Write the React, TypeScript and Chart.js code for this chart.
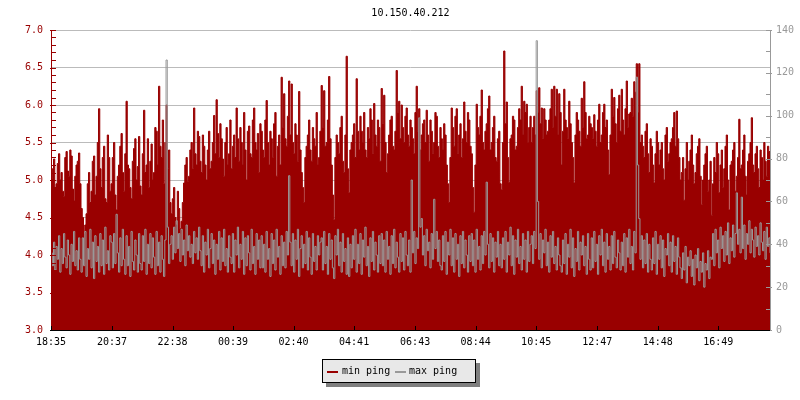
import React, { useEffect, useRef } from "react";
import { Chart, registerables } from "chart.js";

Chart.register(...registerables);

const FONT_FAMILY = "'DejaVu Sans Mono', monospace";
const RED = "#990000";
const GRAY = "#999999";

const chartTitle = "10.150.40.212";
const seriesNames = ["min ping", "max ping"];
const tickLabels = ["18:35", "20:37", "22:38", "00:39", "02:40", "04:41", "06:43", "08:44", "10:45", "12:47", "14:48", "16:49"];
const sampleStepMinutes = 2.5;

// min ping (left axis, ms) – one row per hour
const minPing = [
  5.02, 5.15, 5.28, 4.9, 4.95, 5.22, 5.35, 5.0, 5.1, 4.85, 4.78, 5.3, 5.38, 5.12, 5.05, 5.4, 5.32, 4.88, 4.72, 5.05, 5.2, 5.25, 5.36, 4.95,
  4.62, 4.5, 4.28, 4.4, 4.55, 4.95, 5.1, 4.7, 4.85, 5.25, 5.32, 4.8, 5.05, 5.5, 5.95, 5.15, 4.9, 5.3, 5.45, 4.75, 4.7, 5.6, 5.3, 4.85,
  4.95, 5.3, 5.5, 4.8, 4.6, 5.05, 5.2, 5.45, 5.62, 5.1, 4.85, 5.35, 6.05, 5.2, 5.15, 4.9, 4.75, 5.25, 5.42, 5.55, 5.0, 5.18, 5.58, 4.92,
  4.8, 5.35, 5.93, 5.1, 5.2, 5.55, 4.9, 5.25, 5.48, 5.0, 5.1, 5.7, 5.65, 5.2, 6.25, 5.45, 5.3, 5.8, 4.95, 5.5, 6.0, 5.15, 5.4, 4.7,
  4.55, 4.75, 4.9, 4.5, 4.4, 4.85, 4.62, 4.35, 4.45, 4.7, 4.96, 5.2, 5.3, 4.98, 5.05, 5.4, 5.5, 5.15, 5.96, 5.35, 5.2, 5.65, 5.58, 5.25,
  5.1, 5.6, 5.45, 5.2, 5.0, 5.4, 5.65, 5.15, 5.25, 5.5, 5.86, 5.35, 6.07, 5.62, 5.3, 5.75, 5.55, 5.28, 5.05, 5.5, 5.7, 5.2, 5.35, 5.8,
  5.15, 5.45, 5.6, 5.3, 5.96, 5.55, 5.25, 5.7, 5.5, 5.2, 5.9, 5.4, 5.0, 5.65, 5.72, 5.35, 5.3, 5.8, 5.96, 5.5, 5.4, 5.62, 5.1, 5.75,
  5.65, 5.4, 5.3, 5.8, 6.06, 5.5, 5.2, 5.65, 5.55, 5.3, 5.75, 5.9, 5.05, 5.45, 5.6, 5.2, 6.37, 5.7, 6.15, 5.55, 5.45, 5.85, 6.32, 5.6,
  6.28, 5.5, 5.35, 5.75, 5.6, 5.25, 6.18, 5.4, 5.1, 4.9, 4.7, 5.3, 5.45, 5.6, 5.8, 5.4, 5.25, 5.7, 5.55, 5.45, 5.9, 5.2, 5.3, 5.65,
  6.26, 5.7, 6.19, 5.45, 5.5, 5.8, 6.38, 5.55, 5.2, 4.8, 4.47, 5.3, 5.6, 5.5, 5.35, 5.7, 5.85, 5.25, 5.1, 5.6, 6.65, 5.15, 4.83, 5.4,
  5.5, 5.6, 5.75, 5.3, 6.35, 5.65, 5.4, 5.85, 5.65, 5.5, 5.9, 5.4, 5.3, 5.7, 5.55, 5.95, 5.8, 5.35, 6.02, 5.6, 5.45, 5.8, 5.7, 5.25,
  6.22, 5.75, 6.13, 5.5, 5.1, 5.35, 5.6, 5.8, 5.85, 5.45, 5.4, 5.65, 6.46, 5.9, 6.05, 5.55, 6.0, 5.7, 5.5, 5.85, 5.96, 5.6, 5.45, 5.8,
  5.7, 5.55, 5.35, 5.9, 6.25, 5.65, 5.95, 5.4, 5.6, 5.75, 5.8, 5.5, 5.93, 5.6, 5.25, 5.8, 5.65, 5.35, 5.5, 5.9, 5.85, 5.45, 5.3, 5.7,
  5.55, 5.4, 5.75, 5.6, 5.2, 4.95, 4.7, 5.3, 5.96, 5.7, 5.45, 5.85, 5.95, 5.35, 5.6, 5.75, 5.3, 5.55, 6.04, 5.65, 5.5, 5.9, 5.8, 5.45,
  5.35, 4.9, 4.57, 5.2, 6.01, 5.7, 5.6, 5.85, 6.2, 5.5, 5.4, 5.65, 5.75, 5.95, 6.12, 5.4, 5.5, 5.7, 5.85, 5.3, 5.25, 5.55, 5.65, 4.95,
  4.87, 5.5, 6.72, 5.75, 6.04, 5.3, 4.97, 5.55, 5.6, 5.85, 5.8, 5.4, 5.45, 5.7, 5.95, 5.8, 6.25, 5.6, 6.05, 5.9, 6.01, 5.5, 5.7, 5.85,
  5.5, 5.7, 5.85, 5.6, 6.19, 5.9, 6.23, 5.75, 5.96, 5.55, 5.95, 5.8, 5.6, 5.65, 5.8, 5.95, 6.21, 5.7, 6.25, 5.85, 6.21, 5.6, 6.15, 5.9,
  5.2, 5.65, 6.21, 5.8, 5.7, 5.55, 6.05, 5.75, 5.5, 5.3, 4.96, 5.6, 5.9, 5.8, 5.65, 5.45, 6.09, 5.7, 6.31, 5.9, 5.55, 5.6, 5.85, 5.75,
  5.7, 5.55, 5.87, 5.65, 5.45, 5.8, 6.01, 5.5, 5.6, 5.9, 6.01, 5.7, 5.8, 5.4, 5.07, 5.6, 6.21, 5.85, 6.1, 5.75, 5.5, 5.95, 6.13, 5.65,
  6.21, 5.8, 5.6, 5.95, 6.32, 5.7, 5.88, 5.9, 6.09, 5.85, 6.31, 6.17, 6.55, 5.9, 6.55, 5.5, 5.6, 5.45, 5.3, 5.65, 5.75, 5.35, 5.1, 5.55,
  5.45, 5.2, 4.96, 5.35, 5.65, 5.5, 5.2, 5.4, 5.5, 5.15, 5.0, 5.6, 5.7, 5.25, 5.35, 5.5, 5.55, 5.7, 5.9, 5.45, 5.92, 5.55, 5.3, 5.0,
  5.1, 5.3, 4.73, 5.15, 5.5, 5.0, 5.25, 5.4, 5.6, 5.2, 4.95, 5.1, 5.35, 5.45, 5.55, 5.05, 4.67, 5.0, 5.2, 5.35, 5.45, 4.85, 5.0, 5.25,
  4.53, 4.95, 5.3, 5.1, 5.5, 5.35, 4.83, 5.2, 5.4, 4.9, 5.15, 5.45, 5.6, 5.0, 4.6, 5.2, 5.25, 5.4, 5.5, 4.85, 5.05, 5.3, 5.81, 5.15,
  5.2, 5.4, 5.6, 5.05, 4.8, 5.25, 5.35, 5.5, 5.83, 5.2, 5.1, 5.35, 5.45, 5.15, 4.9, 5.4, 5.3, 5.0, 5.5, 5.25, 5.05, 5.45, 5.38, 5.2,
];

// max ping (right axis, ms) – one row per hour
const maxPing = [
  36, 30, 41, 28, 39, 33, 44, 27, 38, 31, 45, 34, 29, 42, 35, 26, 40, 32, 46, 30, 37, 28, 43, 33,
  27, 43, 30, 46, 25, 38, 33, 47, 29, 41, 24, 44, 32, 39, 27, 45, 30, 42, 26, 48, 31, 37, 28, 44,
  41, 29, 45, 31, 54, 36, 27, 43, 30, 47, 33, 26, 44, 30, 39, 25, 46, 32, 28, 42, 35, 27, 45, 31,
  28, 44, 32, 47, 26, 40, 31, 45, 29, 43, 34, 26, 46, 30, 41, 27, 44, 33, 25, 42, 126, 48, 31, 40,
  44, 33, 48, 36, 51, 38, 45, 32, 47, 35, 42, 30, 49, 37, 44, 34, 40, 31, 46, 36, 43, 33, 48, 37,
  30, 44, 27, 41, 35, 47, 29, 38, 45, 31, 42, 26, 40, 33, 46, 28, 43, 32, 47, 30, 38, 27, 44, 34,
  31, 45, 27, 42, 35, 48, 29, 40, 33, 46, 26, 43, 30, 44, 36, 28, 47, 31, 39, 26, 45, 33, 42, 29,
  44, 29, 40, 27, 46, 33, 38, 25, 45, 31, 42, 28, 47, 34, 39, 26, 44, 30, 41, 29, 46, 35, 72, 41,
  30, 45, 27, 42, 33, 47, 25, 38, 44, 29, 40, 31, 46, 28, 43, 34, 26, 45, 32, 39, 28, 44, 35, 41,
  43, 28, 46, 31, 39, 26, 45, 33, 42, 29, 24, 44, 35, 47, 30, 41, 27, 45, 32, 38, 26, 43, 25, 40,
  29, 44, 33, 47, 27, 40, 31, 45, 26, 42, 34, 48, 30, 39, 25, 43, 32, 46, 28, 41, 35, 27, 44, 31,
  45, 30, 42, 27, 46, 33, 39, 26, 44, 31, 47, 29, 41, 34, 27, 45, 32, 43, 28, 46, 35, 30, 42, 27,
  70, 36, 46, 31, 43, 38, 99, 48, 52, 35, 44, 30, 47, 37, 41, 29, 45, 33, 61, 38, 46, 32, 42, 30,
  28, 44, 32, 46, 26, 41, 35, 47, 30, 43, 27, 45, 33, 40, 25, 44, 31, 46, 29, 42, 35, 27, 44, 32,
  45, 30, 42, 27, 47, 33, 39, 28, 44, 31, 46, 35, 69, 40, 29, 45, 32, 43, 27, 41, 34, 46, 30, 40,
  29, 43, 33, 46, 27, 41, 35, 48, 30, 44, 26, 42, 34, 47, 31, 39, 28, 45, 33, 42, 27, 46, 32, 40,
  44, 31, 46, 38, 135, 60, 33, 45, 29, 42, 36, 47, 30, 41, 27, 44, 34, 46, 31, 39, 28, 43, 35, 30,
  27, 42, 31, 45, 26, 40, 34, 47, 29, 43, 25, 38, 32, 46, 28, 41, 35, 44, 30, 39, 26, 45, 33, 28,
  43, 29, 46, 32, 40, 26, 44, 35, 47, 30, 41, 27, 45, 33, 39, 28, 44, 31, 46, 34, 29, 42, 36, 28,
  41, 30, 45, 27, 43, 34, 47, 31, 39, 28, 46, 36, 118, 77, 52, 33, 44, 29, 42, 31, 45, 27, 40, 33,
  28, 43, 31, 46, 26, 40, 33, 44, 29, 42, 25, 38, 35, 45, 30, 41, 27, 44, 32, 39, 26, 43, 34, 29,
  24, 36, 28, 39, 22, 34, 30, 37, 25, 33, 21, 35, 29, 38, 23, 32, 27, 36, 20, 31, 28, 37, 24, 34,
  33, 45, 30, 47, 36, 42, 29, 48, 38, 44, 32, 46, 35, 50, 31, 43, 37, 49, 34, 45, 64, 40, 47, 36,
  62, 38, 49, 33, 45, 40, 51, 36, 47, 42, 34, 48, 39, 44, 35, 50, 41, 37, 46, 33, 48, 39, 43, 36,
];

const leftMin = 3;
const leftMax = 7;
const leftStep = 0.5;
const rightMin = 0;
const rightMax = 140;
const rightStep = 20;

function toMinutes(label: string): number {
  const [h, m] = label.split(":").map(Number);
  return h * 60 + m;
}
const startMinute = toMinutes(tickLabels[0]);
const tickOffsets = tickLabels.map((l) => (toMinutes(l) - startMinute + 1440) % 1440);
const sampleCount = Math.min(minPing.length, maxPing.length);
const lastOffset = (sampleCount - 1) * sampleStepMinutes;

const axisPlugin = {
  id: "rrdAxes",
  afterDatasetsDraw(chart: any) {
    const ctx = chart.ctx as CanvasRenderingContext2D;
    const { left, right, top, bottom } = chart.chartArea;
    const ys = chart.scales.y;
    const yr = chart.scales.y1;
    const xs = chart.scales.x;
    const L = Math.round(left);
    const R = Math.round(right);
    const T = Math.round(top);
    const B = Math.round(bottom);
    ctx.save();
    ctx.fillStyle = RED;
    ctx.fillRect(L, T, 1, B - T + 1);
    const nMinor = Math.round((leftMax - leftMin) / 0.1);
    for (let k = 0; k <= nMinor; k++) {
      const py = Math.round(ys.getPixelForValue(leftMin + k * 0.1));
      if (k % 5 === 0) ctx.fillRect(L - 1, py, 6, 1);
      else ctx.fillRect(L, py, 5, 1);
    }
    ctx.fillStyle = GRAY;
    ctx.fillRect(R, T, 1, B - T + 1);
    for (let v = rightMin; v <= rightMax; v += rightStep / 2) {
      const py = Math.round(yr.getPixelForValue(v));
      if (v % rightStep === 0) ctx.fillRect(R - 4, py, 6, 1);
      else ctx.fillRect(R - 4, py, 5, 1);
    }
    ctx.fillStyle = "#000000";
    ctx.fillRect(L - 1, B, R - L + 1, 1);
    tickOffsets.forEach((m) => {
      const px = Math.round(xs.getPixelForValue(m));
      ctx.fillRect(px, B - 4, 1, 4);
    });
    ctx.restore();
  },
};

export default function App() {
  const canvasRef = useRef<HTMLCanvasElement | null>(null);

  useEffect(() => {
    if (!canvasRef.current) return;
    const font = { family: FONT_FAMILY, size: 10, weight: "normal" as const };
    const chart = new Chart(canvasRef.current, {
      type: "line",
      data: {
        datasets: [
          {
            label: seriesNames[0],
            data: minPing.slice(0, sampleCount).map((v, i) => ({ x: i * sampleStepMinutes, y: v })),
            yAxisID: "y",
            borderColor: RED,
            backgroundColor: RED,
            borderWidth: 1,
            pointRadius: 0,
            fill: "start",
            stepped: true,
            order: 2,
          },
          {
            label: seriesNames[1],
            data: maxPing.slice(0, sampleCount).map((v, i) => ({ x: i * sampleStepMinutes, y: v })),
            yAxisID: "y1",
            borderColor: GRAY,
            backgroundColor: GRAY,
            borderWidth: 1,
            pointRadius: 0,
            fill: false,
            stepped: true,
            order: 1,
          },
        ],
      },
      options: {
        animation: false,
        responsive: false,
        devicePixelRatio: 1,
        events: [],
        layout: { padding: 0 },
        plugins: {
          legend: { display: false },
          tooltip: { enabled: false },
          title: {
            display: true,
            text: chartTitle,
            color: "#000000",
            fullSize: false,
            font: { ...font, lineHeight: 1.2 },
            padding: { top: 7, bottom: 11 },
          },
        },
        scales: {
          x: {
            type: "linear",
            min: 0,
            max: lastOffset,
            afterBuildTicks: (s: any) => {
              s.ticks = tickOffsets.map((v) => ({ value: v }));
            },
            afterFit: (s: any) => {
              s.height = 70;
            },
            grid: { display: false, drawTicks: false },
            border: { display: false },
            ticks: {
              autoSkip: false,
              maxRotation: 0,
              padding: 6,
              color: "#000000",
              font,
              callback: (v: any) => {
                const i = tickOffsets.indexOf(Number(v));
                return i >= 0 ? tickLabels[i] : "";
              },
            },
          },
          y: {
            position: "left",
            min: leftMin,
            max: leftMax,
            afterFit: (s: any) => {
              s.width = 51;
            },
            grid: { color: "#bbbbbb", drawTicks: false },
            border: { display: false },
            ticks: {
              stepSize: leftStep,
              padding: 8,
              color: RED,
              font,
              callback: (v: any) => Number(v).toFixed(1),
            },
          },
          y1: {
            position: "right",
            min: rightMin,
            max: rightMax,
            afterFit: (s: any) => {
              s.width = 30;
            },
            grid: { display: false, drawTicks: false },
            border: { display: false },
            ticks: { stepSize: rightStep, padding: 6, color: GRAY, font },
          },
        },
      },
      plugins: [axisPlugin],
    });
    return () => chart.destroy();
  }, []);

  const textStyle: React.CSSProperties = {
    position: "absolute",
    top: 5,
    fontFamily: FONT_FAMILY,
    fontSize: 10,
    lineHeight: "12px",
    color: "#000",
    whiteSpace: "pre",
  };

  return (
    <div style={{ position: "fixed", left: 0, top: 0, width: 800, height: 400, background: "#fff" }}>
      <canvas ref={canvasRef} width={800} height={400} style={{ display: "block", width: 800, height: 400 }} />
      <div
        style={{
          position: "absolute",
          left: 322,
          top: 359,
          width: 152,
          height: 22,
          background: "#e8e8e8",
          border: "1px solid #000",
          boxShadow: "4px 4px 0 #7f7f7f",
        }}
      >
        <div style={{ position: "absolute", left: 4, top: 11, width: 11, height: 2, background: RED }} />
        <span style={{ ...textStyle, left: 19 }}>{seriesNames[0]}</span>
        <div style={{ position: "absolute", left: 72, top: 11, width: 11, height: 2, background: GRAY }} />
        <span style={{ ...textStyle, left: 86 }}>{seriesNames[1]}</span>
      </div>
    </div>
  );
}
